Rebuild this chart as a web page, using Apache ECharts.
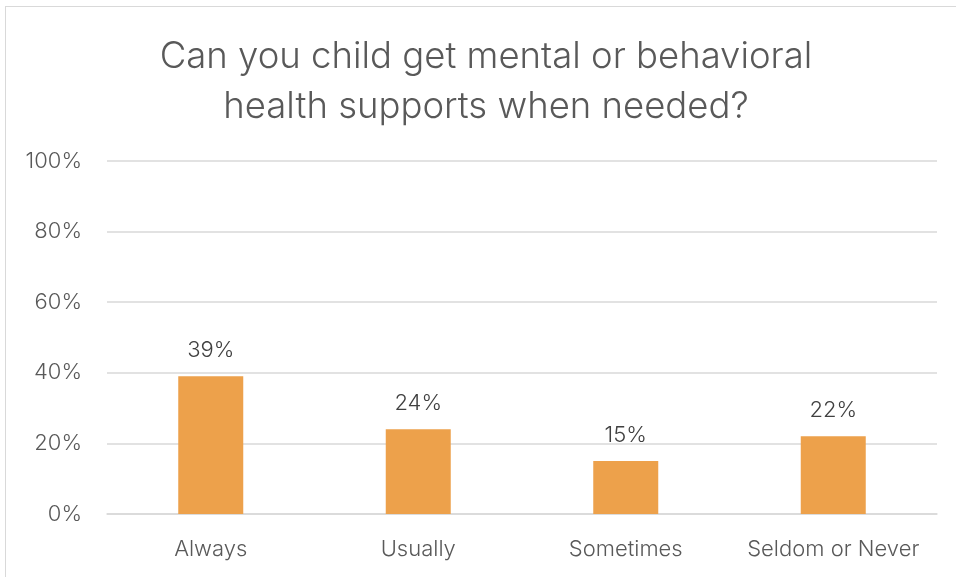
<!DOCTYPE html>
<html><head><meta charset="utf-8">
<script src="https://cdn.jsdelivr.net/npm/echarts@6/dist/echarts.min.js"></script>
<style>html,body{margin:0;padding:0;background:#fff}#c{width:956px;height:577px}
#frame{position:absolute;left:5px;top:6px;width:960px;height:580px;border:1.5px solid #d9d9d9;box-sizing:border-box;pointer-events:none}</style>
</head><body><div id="c"></div><div id="frame"></div>
<script>
const categories = ['Always', 'Usually', 'Sometimes', 'Seldom or Never'];
const values = [39, 24, 15, 22];
const yTicks = [0, 20, 40, 60, 80, 100];
const titleText = 'Can you child get mental or behavioral\nhealth supports when needed?';

const chart = echarts.init(document.getElementById('c'));
const font = 'Inter, Lato, sans-serif';
chart.setOption({
  animation: false,
  title: {
    text: titleText, left: 481, top: 27, textAlign: 'center',
    textStyle: {fontFamily: font, fontWeight: 300, fontSize: 36.5, color: '#595959', lineHeight: 50}
  },
  grid: {left: 107, right: 19, top: 161, bottom: 63},
  xAxis: {
    type: 'category', data: categories,
    axisLine: {show: true, lineStyle: {color: '#d9d9d9', width: 1.5}},
    axisTick: {show: false},
    axisLabel: {interval: 0, fontFamily: font, fontWeight: 300, fontSize: 22, color: '#595959', margin: 24}
  },
  yAxis: {
    type: 'value', min: yTicks[0], max: yTicks[yTicks.length - 1], interval: 20,
    axisLine: {show: false}, axisTick: {show: false},
    splitLine: {lineStyle: {color: '#d9d9d9', width: 1.5}},
    axisLabel: {fontFamily: font, fontWeight: 300, fontSize: 22, color: '#595959', margin: 25,
      formatter: v => v + '%'}
  },
  series: [{
    type: 'bar', data: values, barWidth: 65,
    itemStyle: {color: '#EDA14B'},
    label: {show: true, position: 'top', distance: 15, fontFamily: font, fontWeight: 300,
      fontSize: 22, color: '#404040', formatter: p => p.value + '%'}
  }]
});
</script></body></html>
